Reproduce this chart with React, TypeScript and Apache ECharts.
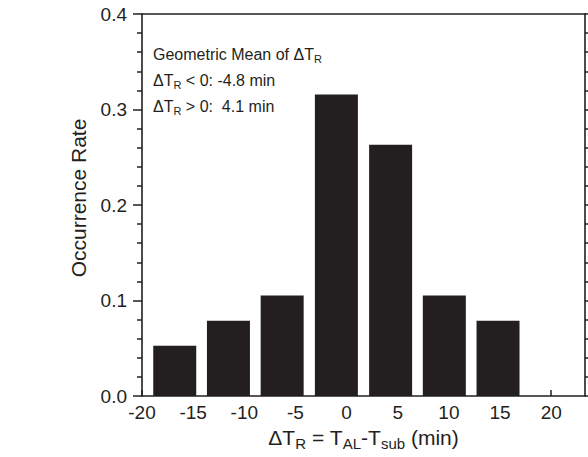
import React, { useEffect, useRef } from "react";
import * as echarts from "echarts";

// Data
const binCenters = [-16.8, -11.55, -6.3, -1.0, 4.3, 9.55, 14.8];
const occurrenceRates = [0.0526, 0.0789, 0.1053, 0.3158, 0.2632, 0.1053, 0.0789];
const xTickLabels = [-20, -15, -10, -5, 0, 5, 10, 15, 20];
const yTickLabels = [0.0, 0.1, 0.2, 0.3, 0.4];
const yAxisTitle = "Occurrence Rate";
const xAxisTitle = "ΔT{s|R} = T{s|AL}-T{s|sub} (min)";
const annotationLines = [
  "Geometric Mean of ΔT{s|R}",
  "ΔT{s|R} < 0: -4.8 min",
  "ΔT{s|R} > 0:  4.1 min",
];

const FONT = "'Liberation Sans', Arial, Helvetica, sans-serif";
const INK = "#231f20";

export default function App() {
  const ref = useRef<HTMLDivElement>(null);
  useEffect(() => {
    if (!ref.current) return;
    document.body.style.margin = "0";
    const chart = echarts.init(ref.current, null, { renderer: "svg" });
    const xMin = xTickLabels[0];
    const xMax = 23.3;
    const yMin = yTickLabels[0];
    const yMax = yTickLabels[yTickLabels.length - 1];
    const mkLine = () => ({ show: true, onZero: false, lineStyle: { color: INK, width: 1.6 } });
    const subRich = {
      s: { fontSize: 11, fontFamily: FONT, color: INK, padding: [10, 0, 0, 0] },
    };
    chart.setOption({
      animation: false,
      backgroundColor: "#ffffff",
      grid: { left: 142, right: 3, top: 14, bottom: 61, show: false },
      xAxis: [
        {
          type: "value",
          min: xMin,
          max: xMax,
          interval: 5,
          position: "bottom",
          axisLine: mkLine(),
          splitLine: { show: false },
          axisTick: { show: true, inside: true, length: 6, lineStyle: { color: INK, width: 1.5 } },
          axisLabel: {
            show: true,
            margin: 7,
            fontSize: 19,
            fontFamily: FONT,
            color: INK,
            showMaxLabel: false,
            formatter: (v: number) => (xTickLabels.includes(v) ? String(v) : ""),
          },
          name: xAxisTitle,
          nameLocation: "middle",
          nameGap: 26,
          nameTextStyle: {
            fontSize: 21,
            fontFamily: FONT,
            color: INK,
            rich: { s: { fontSize: 15, fontFamily: FONT, color: INK, padding: [13, 0, 0, 0] } },
          },
        },
        {
          type: "value",
          min: xMin,
          max: xMax,
          position: "top",
          axisLine: mkLine(),
          axisTick: { show: false },
          axisLabel: { show: false },
          splitLine: { show: false },
        },
      ],
      yAxis: [
        {
          type: "value",
          min: yMin,
          max: yMax,
          interval: 0.1,
          position: "left",
          axisLine: mkLine(),
          splitLine: { show: false },
          axisTick: { show: true, inside: false, length: 9, lineStyle: { color: INK, width: 1.5 } },
          minorTick: { show: true, splitNumber: 5, length: 5, lineStyle: { color: INK, width: 1.5 } },
          axisLabel: {
            margin: 15,
            fontSize: 19,
            fontFamily: FONT,
            color: INK,
            formatter: (v: number) => v.toFixed(1),
          },
        },
        {
          type: "value",
          min: yMin,
          max: yMax,
          interval: 0.1,
          position: "right",
          axisLine: mkLine(),
          splitLine: { show: false },
          axisTick: { show: true, inside: false, length: 9, lineStyle: { color: INK, width: 1.5 } },
          minorTick: { show: true, splitNumber: 5, length: 5, lineStyle: { color: INK, width: 1.5 } },
          axisLabel: { show: false },
        },
      ],
      graphic: [
        {
          type: "text",
          x: 78,
          y: 198,
          rotation: Math.PI / 2,
          silent: true,
          style: {
            text: yAxisTitle,
            fontSize: 21,
            fontFamily: FONT,
            fill: INK,
            align: "center",
            verticalAlign: "middle",
          },
        },
        ...annotationLines.map((t, i) => ({
          type: "text",
          left: 153,
          top: 46 + i * 26,
          silent: true,
          style: {
            text: t,
            fontSize: 16,
            fontFamily: FONT,
            fill: INK,
            rich: subRich,
          },
        })),
      ],
      series: [
        {
          type: "bar",
          xAxisIndex: 0,
          yAxisIndex: 0,
          barWidth: 43,
          itemStyle: { color: INK },
          data: binCenters.map((x, i) => [x, occurrenceRates[i]]),
        },
      ],
    });
    return () => chart.dispose();
  }, []);
  return (
    <div
      ref={ref}
      style={{ position: "fixed", left: 0, top: 0, width: 588, height: 457 }}
    />
  );
}
